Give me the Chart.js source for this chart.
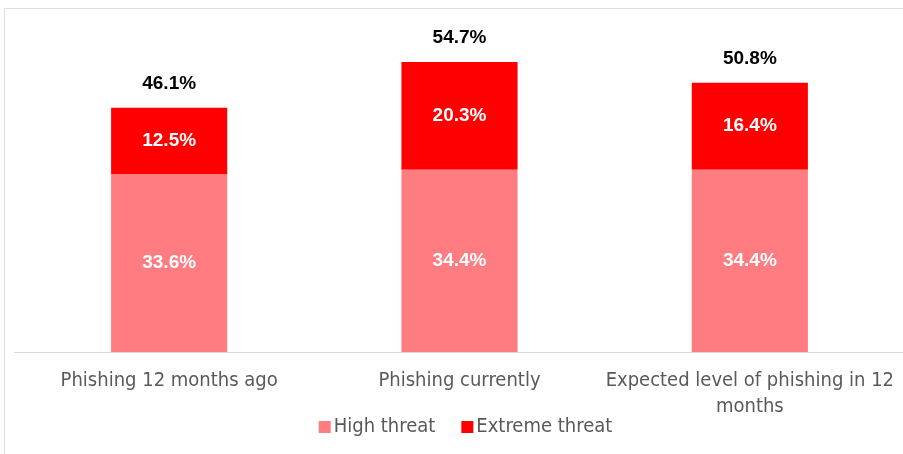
<!DOCTYPE html>
<html lang="en">
<head>
  <meta charset="UTF-8">
  <title>Phishing threat level</title>
  <script src="https://cdn.jsdelivr.net/npm/chart.js"></script>
  <style>
    html, body { margin: 0; padding: 0; background: #fff; }
    #wrap { position: relative; width: 903px; height: 454px; overflow: hidden; }
    #frame {
      position: absolute; left: 4px; top: 8px; width: 1000px; height: 1000px;
      border: 1px solid #dedede; box-sizing: border-box;
    }
    canvas { position: absolute; left: 0; top: 0; }
  </style>
</head>
<body>
<div id="wrap">
  <div id="frame"></div>
  <canvas id="threatChart" width="903" height="454"></canvas>
</div>

<script>
const categories = [
  'Phishing 12 months ago',
  'Phishing currently',
  ['Expected level of phishing in 12', 'months']
];
const highThreat = [33.6, 34.4, 34.4];
const extremeThreat = [12.5, 20.3, 16.4];
const totals = [46.1, 54.7, 50.8];

const labelFont = '"Liberation Sans Narrow", "DejaVu Sans Condensed", Arial, sans-serif';

// values inside segments, totals on top, legend row at the bottom
const valueLabels = {
  id: 'valueLabels',
  beforeDatasetsDraw(chart) {
    // horizontal axis line runs a little past the plot area
    const ctx = chart.ctx;
    const y = chart.scales.x.top;
    ctx.save();
    ctx.strokeStyle = '#d9d9d9';
    ctx.lineWidth = 1;
    ctx.beginPath();
    ctx.moveTo(14, y + 0.5);
    ctx.lineTo(chart.width, y + 0.5);
    ctx.stroke();
    ctx.restore();
  },
  afterDatasetsDraw(chart) {
    const ctx = chart.ctx;
    ctx.save();
    ctx.textAlign = 'center';
    ctx.textBaseline = 'middle';
    ctx.font = 'bold 19px "Liberation Sans", Arial, sans-serif';
    chart.data.datasets.forEach((ds, i) => {
      chart.getDatasetMeta(i).data.forEach((bar, j) => {
        ctx.fillStyle = '#ffffff';
        ctx.fillText(ds.data[j].toFixed(1) + '%', bar.x, (bar.y + bar.base) / 2);
      });
    });
    ctx.fillStyle = '#000000';
    chart.getDatasetMeta(1).data.forEach((bar, j) => {
      ctx.fillText(totals[j].toFixed(1) + '%', bar.x, bar.y - 24);
    });

    // legend
    ctx.font = '20px ' + labelFont;
    ctx.textAlign = 'left';
    const items = chart.data.datasets.map(ds => ({ text: ds.label, color: ds.backgroundColor }));
    const box = 12, gapText = 3, gapItem = 26;
    let total = 0;
    items.forEach((it, i) => {
      it.w = ctx.measureText(it.text).width;
      total += box + gapText + it.w + (i ? gapItem : 0);
    });
    const area = chart.chartArea;
    let x = (area.left + area.right) / 2 - total / 2 + 6;
    const ly = 427;
    items.forEach((it, i) => {
      if (i) x += gapItem;
      ctx.fillStyle = it.color;
      ctx.fillRect(x, ly - box / 2, box, box);
      x += box + gapText;
      ctx.fillStyle = '#595959';
      ctx.fillText(it.text, x, ly);
      x += it.w;
    });
    ctx.restore();
  }
};

new Chart(document.getElementById('threatChart'), {
  type: 'bar',
  data: {
    labels: categories,
    datasets: [
      { label: 'High threat', data: highThreat, backgroundColor: '#FF7C80', barPercentage: 0.4, categoryPercentage: 1 },
      { label: 'Extreme threat', data: extremeThreat, backgroundColor: '#FF0000', barPercentage: 0.4, categoryPercentage: 1 }
    ]
  },
  options: {
    responsive: false,
    animation: false,
    layout: { padding: { left: 24, right: 8, top: 34, bottom: 18 } },
    scales: {
      x: {
        stacked: true,
        grid: { display: false, drawTicks: false },
        border: { display: false },
        afterFit(scale) {
          scale.paddingLeft = 0;
          scale.paddingRight = 0;
        },
        ticks: {
          color: '#595959',
          padding: 16,
          maxRotation: 0,
          autoSkip: false,
          font: { family: labelFont, size: 20, lineHeight: 1.3 }
        }
      },
      y: {
        stacked: true,
        min: 0,
        max: 60,
        display: false
      }
    },
    plugins: {
      tooltip: { enabled: false },
      legend: { display: false }
    }
  },
  plugins: [valueLabels]
});
</script>
</body>
</html>
